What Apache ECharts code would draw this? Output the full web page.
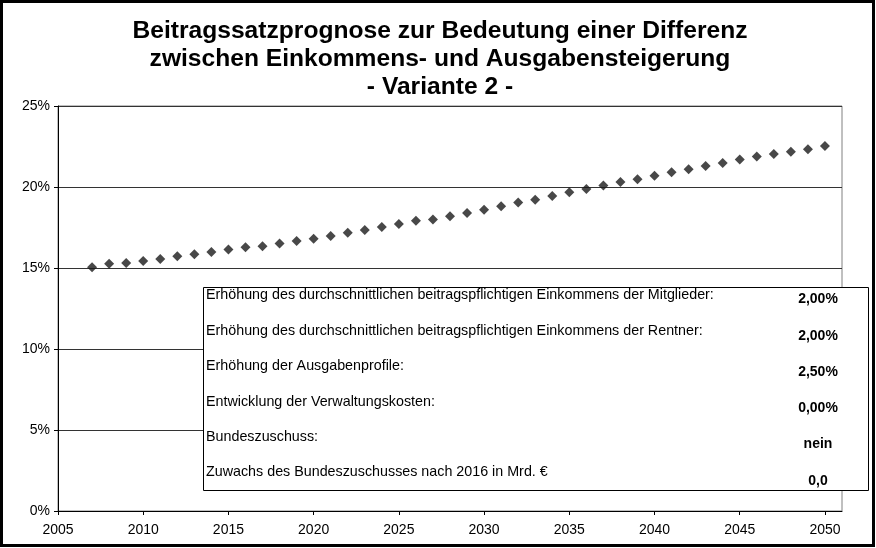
<!DOCTYPE html>
<html><head><meta charset="utf-8">
<script src="https://cdn.jsdelivr.net/npm/echarts@6/dist/echarts.min.js"></script>
<style>html,body{margin:0;padding:0;background:#fff}#c{width:876px;height:548px}</style>
</head><body><div id="c"></div>
<script>
const titleLines = ["Beitragssatzprognose zur Bedeutung einer Differenz","zwischen Einkommens- und Ausgabensteigerung","- Variante 2 -"];
const years = [2007,2008,2009,2010,2011,2012,2013,2014,2015,2016,2017,2018,2019,2020,2021,2022,2023,2024,2025,2026,2027,2028,2029,2030,2031,2032,2033,2034,2035,2036,2037,2038,2039,2040,2041,2042,2043,2044,2045,2046,2047,2048,2049,2050];
const rates = [15.05,15.27,15.31,15.43,15.56,15.72,15.85,15.99,16.14,16.28,16.35,16.51,16.67,16.81,16.98,17.18,17.35,17.53,17.72,17.92,18.00,18.20,18.40,18.60,18.81,19.04,19.22,19.44,19.67,19.88,20.09,20.31,20.48,20.70,20.91,21.09,21.30,21.48,21.69,21.88,22.04,22.18,22.33,22.53];
const tableLabels = ["Erhöhung des durchschnittlichen beitragspflichtigen Einkommens der Mitglieder:","Erhöhung des durchschnittlichen beitragspflichtigen Einkommens der Rentner:","Erhöhung der Ausgabenprofile:","Entwicklung der Verwaltungskosten:","Bundeszuschuss:","Zuwachs des Bundeszuschusses nach 2016 in Mrd. €"];
const tableValues = ["2,00%","2,00%","2,50%","0,00%","nein","0,0"];

const FONT = '"Liberation Sans", Arial, sans-serif';
const chart = echarts.init(document.getElementById('c'), null, {renderer:'canvas'});

const graphics = [
  {type:'rect', shape:{x:1.5,y:1.5,width:872,height:544}, style:{fill:null, stroke:'#000', lineWidth:3}, z:100}
];
titleLines.forEach((t,i)=>{
  graphics.push({type:'text', x:440, y:31+i*28, style:{text:t, font:'bold 24.6px '+FONT, fill:'#000', textAlign:'center', textVerticalAlign:'middle'}});
});
graphics.push({type:'rect', shape:{x:203.5,y:287.5,width:665,height:203}, style:{fill:'#fff', stroke:'#000', lineWidth:1}, z:50});
const rowY = [295,331,366,402,437,472];
const valY = [299,336,372,408,444,481];
tableLabels.forEach((t,i)=>{
  graphics.push({type:'text', x:206, y:rowY[i], z:51, style:{text:t, font:'14.3px '+FONT, fill:'#000', textAlign:'left', textVerticalAlign:'middle'}});
  graphics.push({type:'text', x:818, y:valY[i], z:51, style:{text:tableValues[i], font:'bold 14px '+FONT, fill:'#000', textAlign:'center', textVerticalAlign:'middle'}});
});

chart.setOption({
  animation:false,
  backgroundColor:'#fff',
  grid:{left:58, right:34, top:106, bottom:37, show:true, borderColor:'#808080', borderWidth:1, backgroundColor:'#fff'},
  xAxis:{type:'value', min:2005, max:2051, interval:5,
    axisLine:{show:true, lineStyle:{color:'#000', width:1}},
    axisTick:{show:true, length:4, lineStyle:{color:'#000'}},
    axisLabel:{color:'#000', fontFamily:FONT, fontSize:14, margin:12, showMaxLabel:false,
      formatter:v=> (v%5===0? String(v):'')},
    splitLine:{show:false}},
  yAxis:{type:'value', min:0, max:25, interval:5,
    axisLine:{show:true, lineStyle:{color:'#000', width:1}},
    axisTick:{show:true, length:4, lineStyle:{color:'#000'}},
    axisLabel:{color:'#000', fontFamily:FONT, fontSize:14, margin:8, formatter:v=>v+'%'},
    splitLine:{show:true, lineStyle:{color:'#333', width:1}}},
  series:[{type:'scatter', symbol:'diamond', symbolSize:10, itemStyle:{color:'#1a1a1a'},
    data: years.map((y,i)=>[y, rates[i]])}],
  graphic: graphics
});
</script></body></html>
